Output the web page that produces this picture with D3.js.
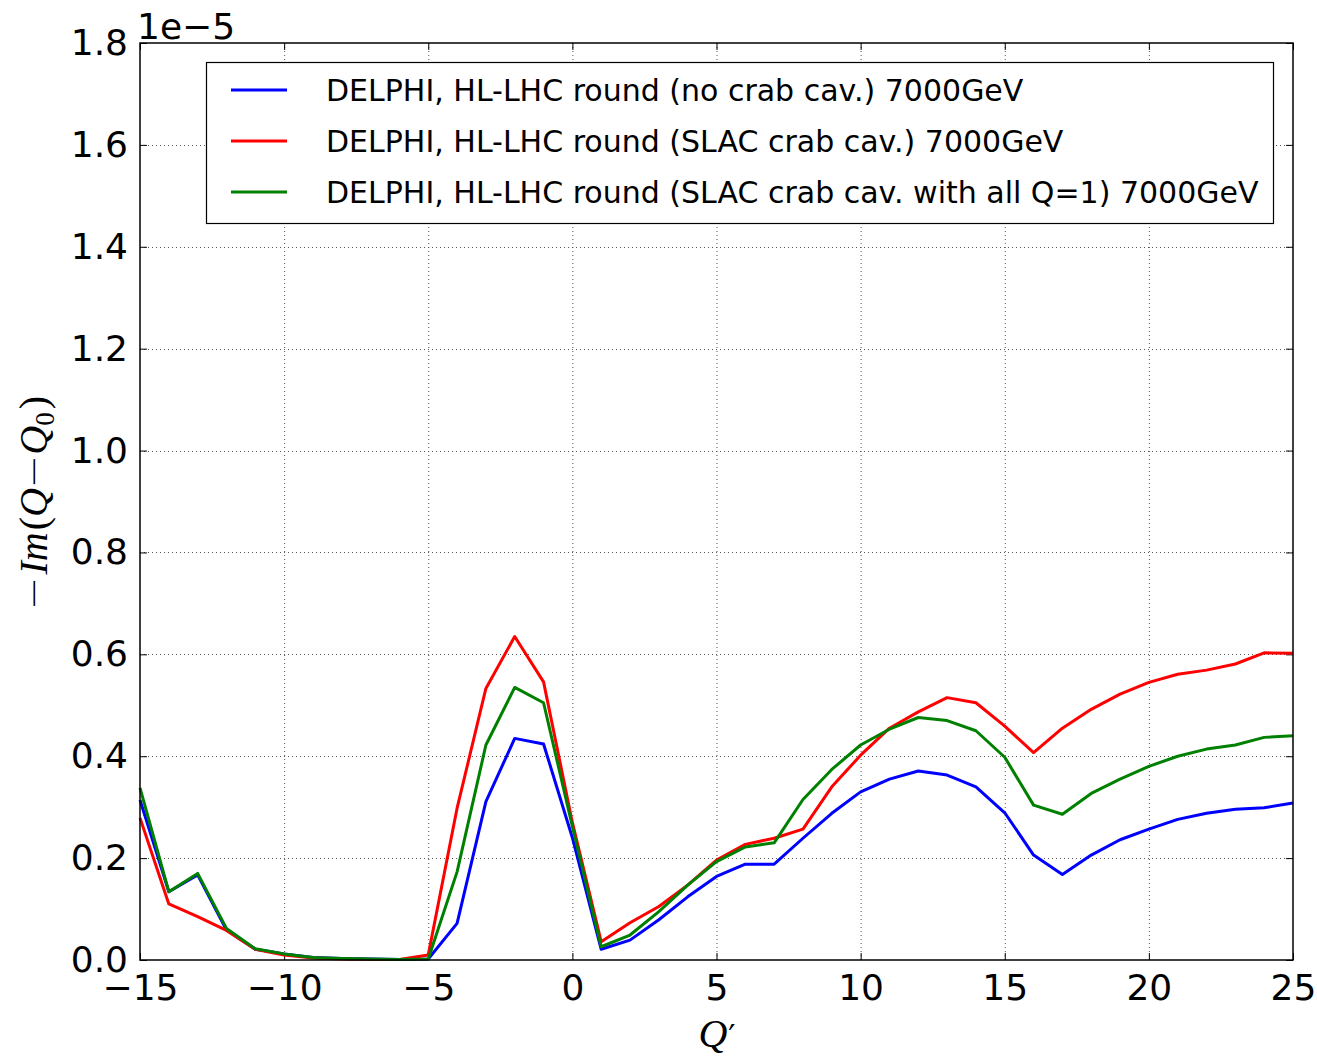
<!DOCTYPE html>
<html>
<head>
<meta charset="utf-8">
<script src="https://cdn.jsdelivr.net/npm/d3@7"></script>
<style>
  html, body { margin: 0; padding: 0; background: #fff; }
  svg { display: block; }
  text { font-family: "DejaVu Sans", sans-serif; }
</style>
</head>
<body>
<svg id="chart" width="1317" height="1057"></svg>
<script>
// Chromaticity Q' sampled at integer steps
const qPrime = d3.range(-15, 26);

// -Im(Q - Q0), in units of 1e-5
const noCrab = [0.314, 0.134, 0.167, 0.059, 0.021, 0.012, 0.005, 0.003, 0.002, 0.001,
  0.002, 0.072, 0.311, 0.435, 0.424, 0.240, 0.021, 0.039, 0.079, 0.124,
  0.164, 0.188, 0.188, 0.239, 0.288, 0.330, 0.355, 0.371, 0.363, 0.340,
  0.289, 0.206, 0.168, 0.206, 0.236, 0.257, 0.276, 0.288, 0.296, 0.299, 0.308];
const slacCrab = [0.279, 0.110, 0.085, 0.058, 0.021, 0.010, 0.004, 0.002, 0.001, 0.001,
  0.010, 0.298, 0.533, 0.635, 0.546, 0.270, 0.036, 0.073, 0.105, 0.147,
  0.196, 0.227, 0.239, 0.257, 0.340, 0.402, 0.455, 0.487, 0.515, 0.505,
  0.459, 0.407, 0.455, 0.492, 0.522, 0.545, 0.561, 0.569, 0.581, 0.603, 0.602];
const slacCrabQ1 = [0.338, 0.134, 0.170, 0.062, 0.022, 0.012, 0.005, 0.003, 0.002, 0.001,
  0.002, 0.173, 0.422, 0.535, 0.505, 0.262, 0.026, 0.049, 0.095, 0.147,
  0.193, 0.222, 0.230, 0.315, 0.374, 0.422, 0.453, 0.476, 0.470, 0.450,
  0.398, 0.304, 0.286, 0.327, 0.355, 0.380, 0.400, 0.414, 0.422, 0.437, 0.440];

const seriesNames = [
  "DELPHI, HL-LHC round (no crab cav.) 7000GeV",
  "DELPHI, HL-LHC round (SLAC crab cav.) 7000GeV",
  "DELPHI, HL-LHC round (SLAC crab cav. with all Q=1) 7000GeV"
];
const seriesColors = ["#0000ff", "#ff0000", "#008000"];
const seriesValues = [noCrab, slacCrab, slacCrabQ1];

const xTicks = [-15, -10, -5, 0, 5, 10, 15, 20, 25];
const yTicks = [0.0, 0.2, 0.4, 0.6, 0.8, 1.0, 1.2, 1.4, 1.6, 1.8];

const svg = d3.select("#chart");
const plot = { left: 140, right: 1293, top: 43, bottom: 960 };

const x = d3.scaleLinear().domain([-15, 25]).range([plot.left, plot.right]);
const y = d3.scaleLinear().domain([0, 1.8]).range([plot.bottom, plot.top]);

// dotted grid
const grid = svg.append("g").attr("stroke", "#555").attr("stroke-width", 1)
  .attr("stroke-dasharray", "1,3");
grid.selectAll("line.vx").data(xTicks.slice(1, -1)).join("line")
  .attr("x1", d => x(d) + 0.5).attr("x2", d => x(d) + 0.5)
  .attr("y1", plot.top).attr("y2", plot.bottom);
grid.selectAll("line.hy").data(yTicks.slice(1, -1)).join("line")
  .attr("y1", d => Math.round(y(d)) + 0.5).attr("y2", d => Math.round(y(d)) + 0.5)
  .attr("x1", plot.left).attr("x2", plot.right);

// inward tick marks on all four sides
const fmtMinus = s => s.replace("-", "\u2212");
const tickLen = 7;
const axBottom = d3.axisBottom(x).tickValues(xTicks).tickSize(-tickLen).tickPadding(14)
  .tickFormat(d => fmtMinus(String(d)));
const axTop = d3.axisTop(x).tickValues(xTicks).tickSize(-tickLen).tickFormat("");
const axLeft = d3.axisLeft(y).tickValues(yTicks).tickSize(-tickLen).tickPadding(12)
  .tickFormat(d3.format(".1f"));
const axRight = d3.axisRight(y).tickValues(yTicks).tickSize(-tickLen).tickFormat("");

function styleAxis(g) {
  g.select(".domain").remove();
  g.selectAll(".tick line").attr("stroke", "#000").attr("stroke-width", 1);
  g.selectAll(".tick text").attr("fill", "#000")
    .style("font-family", "'DejaVu Sans', sans-serif").style("font-size", "36px");
}
svg.append("g").attr("transform", `translate(0,${plot.bottom})`).call(axBottom).call(styleAxis);
svg.append("g").attr("transform", `translate(0,${plot.top})`).call(axTop).call(styleAxis);
svg.append("g").attr("transform", `translate(${plot.left},0)`).call(axLeft).call(styleAxis);
svg.append("g").attr("transform", `translate(${plot.right},0)`).call(axRight).call(styleAxis);

// data lines
const line = d3.line().x((d, i) => x(qPrime[i])).y(d => y(d));
svg.append("g").attr("fill", "none").attr("stroke-width", 3).attr("stroke-linejoin", "round")
  .selectAll("path").data(seriesValues).join("path")
  .attr("stroke", (d, i) => seriesColors[i]).attr("d", line);

// frame
svg.append("rect").attr("x", plot.left).attr("y", plot.top)
  .attr("width", plot.right - plot.left).attr("height", plot.bottom - plot.top)
  .attr("fill", "none").attr("stroke", "#000").attr("stroke-width", 1.5);

// offset text
svg.append("text").attr("x", 137).attr("y", 39).style("font-size", "36px").attr("fill", "#000")
  .text("1e\u22125");

// legend
const legend = svg.append("g");
legend.append("rect").attr("x", 206.5).attr("y", 62.5).attr("width", 1067).attr("height", 161)
  .attr("fill", "#fff").attr("stroke", "#000").attr("stroke-width", 1.2);
const legendRows = legend.selectAll("g.row").data(seriesNames).join("g")
  .attr("transform", (d, i) => `translate(0,${90 + i * 51})`);
legendRows.append("line").attr("x1", 231).attr("x2", 287).attr("y1", 0).attr("y2", 0)
  .attr("stroke", (d, i) => seriesColors[i]).attr("stroke-width", 3);
legendRows.append("text").attr("x", 326).attr("y", 0).attr("dy", "0.37em")
  .style("font-size", "30px").attr("fill", "#000").text(d => d);

// axis titles
const ylab = svg.append("text").attr("transform", "translate(47,503) rotate(-90)")
  .attr("text-anchor", "middle").attr("fill", "#000")
  .style("font-family", "'Liberation Serif', serif").style("font-size", "40px");
const minusStyle = t => t.style("font-style", "normal")
  .style("font-family", "'DejaVu Sans', sans-serif").style("font-weight", "300");
ylab.append("tspan").call(minusStyle).text("\u2212");
ylab.append("tspan").style("font-style", "italic").attr("dx", 2).text("Im");
ylab.append("tspan").style("font-style", "normal").attr("dx", 2).text("(");
ylab.append("tspan").style("font-style", "italic").text("Q");
ylab.append("tspan").call(minusStyle).text("\u2212");
ylab.append("tspan").style("font-style", "italic").text("Q");
ylab.append("tspan").style("font-style", "normal").style("font-size", "27px").attr("dy", 7).text("0");
ylab.append("tspan").style("font-style", "normal").attr("dx", 3).attr("dy", -7).text(")");

const xlab = svg.append("text").attr("x", 717).attr("y", 1047)
  .attr("text-anchor", "middle").attr("fill", "#000")
  .style("font-family", "'Liberation Serif', serif").style("font-size", "40px");
xlab.append("tspan").style("font-style", "italic").text("Q");
xlab.append("tspan").style("font-family", "'DejaVu Sans', sans-serif").style("font-size", "32px")
  .attr("dx", 1).text("\u2032");
</script>
</body>
</html>
